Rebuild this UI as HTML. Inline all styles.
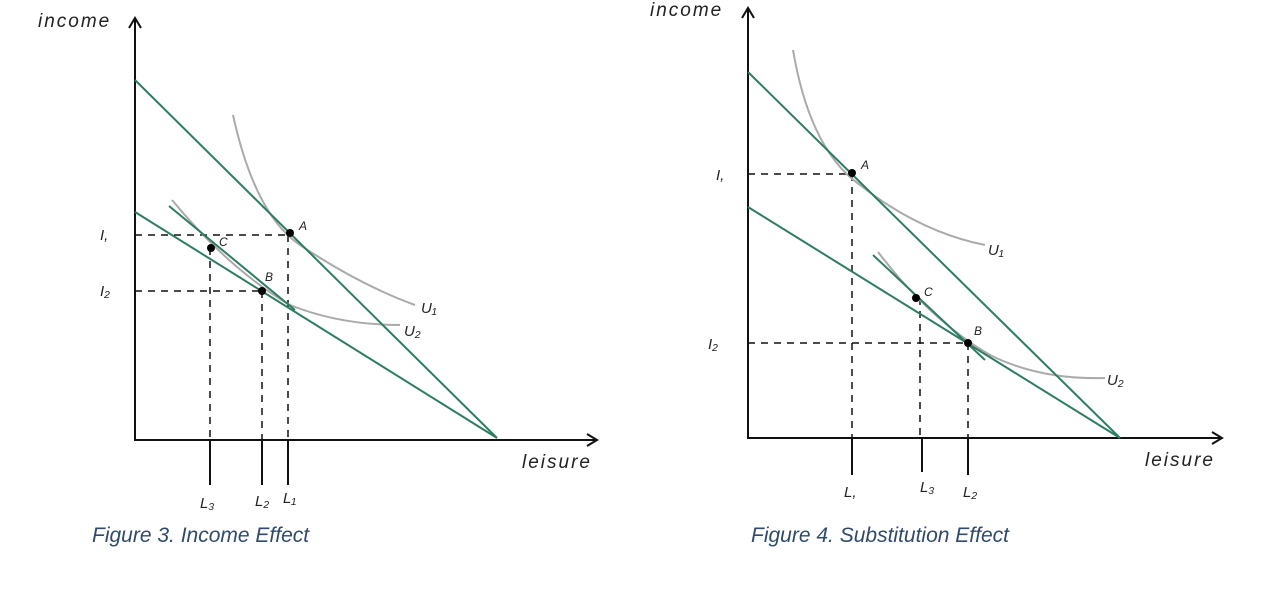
<!DOCTYPE html>
<html><head><meta charset="utf-8"><style>
html,body{margin:0;padding:0;background:#fff;width:1288px;height:590px;overflow:hidden}
svg{display:block}
.hand{font-family:"Liberation Sans",sans-serif;font-style:italic;fill:#222}
.cap{font-family:"Liberation Sans",sans-serif;font-style:italic;font-size:21px;fill:#2f4a6b}
</style></head><body>
<svg width="1288" height="590" viewBox="0 0 1288 590">
<g stroke="#111" stroke-width="2" fill="none">
<path d="M135 20 V440 H595"/>
<path d="M129 28 L135 18 L141 28"/>
<path d="M587 434 L597 440 L587 446"/>
<path d="M748 10 V438 H1220"/>
<path d="M742 18 L748 8 L754 18"/>
<path d="M1212 432 L1222 438 L1212 444"/>
<path d="M210 440V485 M262 440V485 M288 440V485"/>
<path d="M852 438V475 M922 438V472 M968 438V475"/>
</g>
<g stroke="#111" stroke-width="1.5" stroke-dasharray="7,6" fill="none">
<path d="M135 235H290 M135 291H262 M210 248V440 M262 291V440 M288 235V440"/>
<path d="M748 174H852 M748 343H968 M852 174V438 M920 298V438 M968 343V438"/>
</g>
<g stroke="#aaa" stroke-width="2" fill="none">
<path d="M233 115 Q255 215 300 245 Q360 285 415 305"/>
<path d="M172 200 Q230 270 290 305 Q340 325 400 325"/>
<path d="M793 50 Q810 150 860 185 Q920 232 985 245"/>
<path d="M878 252 Q930 320 990 355 Q1040 380 1105 378"/>
</g>
<g stroke="#2e7d62" stroke-width="2" fill="none">
<path d="M135 80 L497 438"/>
<path d="M135 212 L497 438"/>
<path d="M169 206 L295 310"/>
<path d="M748 72 L1120 438"/>
<path d="M748 207 L1120 438"/>
<path d="M873 255 L985 360"/>
</g>
<g fill="#000">
<circle cx="290" cy="233" r="4"/><circle cx="211" cy="248" r="4"/><circle cx="262" cy="291" r="4"/>
<circle cx="852" cy="173" r="4"/><circle cx="916" cy="298" r="4"/><circle cx="968" cy="343" r="4"/>
</g>
<g class="hand" font-size="12">
<text x="299" y="230">A</text><text x="219" y="246">C</text><text x="265" y="281">B</text>
<text x="861" y="169">A</text><text x="924" y="296">C</text><text x="974" y="335">B</text>
</g>
<g class="hand" font-size="15">
<text x="100" y="240">I,</text><text x="100" y="296">I₂</text>
<text x="716" y="180">I,</text><text x="708" y="349">I₂</text>
<text x="421" y="313">U₁</text><text x="404" y="336">U₂</text>
<text x="988" y="255">U₁</text><text x="1107" y="385">U₂</text>
<text x="200" y="508">L₃</text><text x="255" y="506">L₂</text><text x="283" y="503">L₁</text>
<text x="844" y="497">L,</text><text x="920" y="492">L₃</text><text x="963" y="497">L₂</text>
</g>
<g class="hand" font-size="19" letter-spacing="2">
<text x="38" y="27">income</text><text x="650" y="16">income</text>
<text x="522" y="468">leisure</text><text x="1145" y="466">leisure</text>
</g>
<text class="cap" x="92" y="542" font-style="normal">Figure 3. Income Effect</text>
<text class="cap" x="751" y="542" font-style="normal">Figure 4. Substitution Effect</text>
</svg>
</body></html>
